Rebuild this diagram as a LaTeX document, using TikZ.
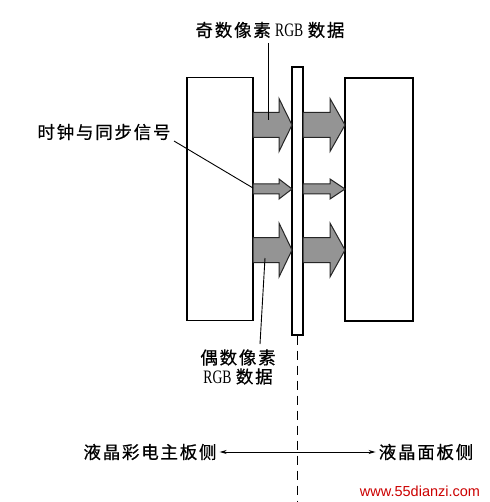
\documentclass[tikz,border=0pt]{standalone}
\usepackage{fontspec}
\setmainfont{Liberation Serif}
\newfontfamily\cjk{Noto Sans CJK SC}[LetterSpace=10,FakeBold=0.6]
\newfontfamily\wmfont{Liberation Sans}
\usetikzlibrary{arrows.meta}
\newcommand\rgbtxt{\scalebox{0.72}[1]{\fontsize{19}{22}\selectfont RGB}}
\newcommand\fatarrow[6]{\filldraw[arrowfill] (#1,#4-#5/2) -- (#2,#4-#5/2) -- (#2,#4-#6/2) -- (#3,#4) -- (#2,#4+#6/2) -- (#2,#4+#5/2) -- (#1,#4+#5/2) -- cycle;}
\begin{document}
\begin{tikzpicture}[x=1pt,y=-1pt,
  box/.style={draw,line width=1.3pt,inner sep=0pt},
  arrowfill/.style={draw=black!85,line width=1pt,fill=black!42,line join=miter},
  lbl/.style={inner sep=0pt,font=\fontsize{17.5}{21}\selectfont},
  lead/.style={line width=0.9pt},
  side/.style={line width=0.9pt,-{Stealth[length=7pt,width=4pt]}}]
\useasboundingbox (0,0) rectangle (489,502);
\fill[white] (0,0) rectangle (489,502);
% boxes
\node[box,minimum width=66pt,minimum height=243pt] (lbox) at (220,199) {};
\node[box,minimum width=11pt,minimum height=268pt] (strip) at (297.5,201) {};
\node[box,minimum width=68pt,minimum height=243pt] (rbox) at (379,199.5) {};
% fat arrows (left side)
\fatarrow{253}{279}{292}{125}{25}{53}
\fatarrow{253}{279}{292}{189}{10}{20}
\fatarrow{253}{279}{292}{250}{25}{54}
% fat arrows (right side)
\fatarrow{303}{330}{345}{125}{25}{53}
\fatarrow{303}{330}{345}{189}{10}{20}
\fatarrow{303}{330}{345}{250}{25}{54}
% labels
\node[lbl] (odd) at (270,30) {{\cjk 奇数像素} \rgbtxt{} {\cjk 数据}};
\coordinate (oddend) at (268,120);
\draw[lead] (oddend |- 0,43) -- (oddend);
\node[lbl] (clk) at (104,132) {\cjk 时钟与同步信号};
\coordinate (clkstart) at (174,141);
\coordinate (clkend) at (253,188);
\draw[lead] (clkstart) -- (clkend);
\node[lbl,align=center] (even) at (238,367) {\cjk 偶数像素\\[-2pt]\rgbtxt{} {\cjk 数据}};
\coordinate (evenstart) at (260,344);
\coordinate (evenend) at (265,258);
\draw[lead] (evenstart) -- (evenend);
% dashed center line
\coordinate (dashend) at (297.5,502);
\draw[line width=1pt,dash pattern=on 9pt off 6pt] (strip.south) -- (dashend);
% sides
\node[lbl] (lside) at (150,452) {\cjk 液晶彩电主板侧};
\node[lbl] (rside) at (426,452) {\cjk 液晶面板侧};
\coordinate (mid) at (297.5,452);
\draw[side] (mid) -- ([xshift=3pt]lside.east);
\draw[side] (mid) -- ([xshift=-3pt]rside.west);
% watermark
\node[inner sep=0pt,text=red!80!black,font=\wmfont\fontsize{14.5}{16}\selectfont] (wm) at (420,491) {www.55dianzi.com};
\end{tikzpicture}
\end{document}
